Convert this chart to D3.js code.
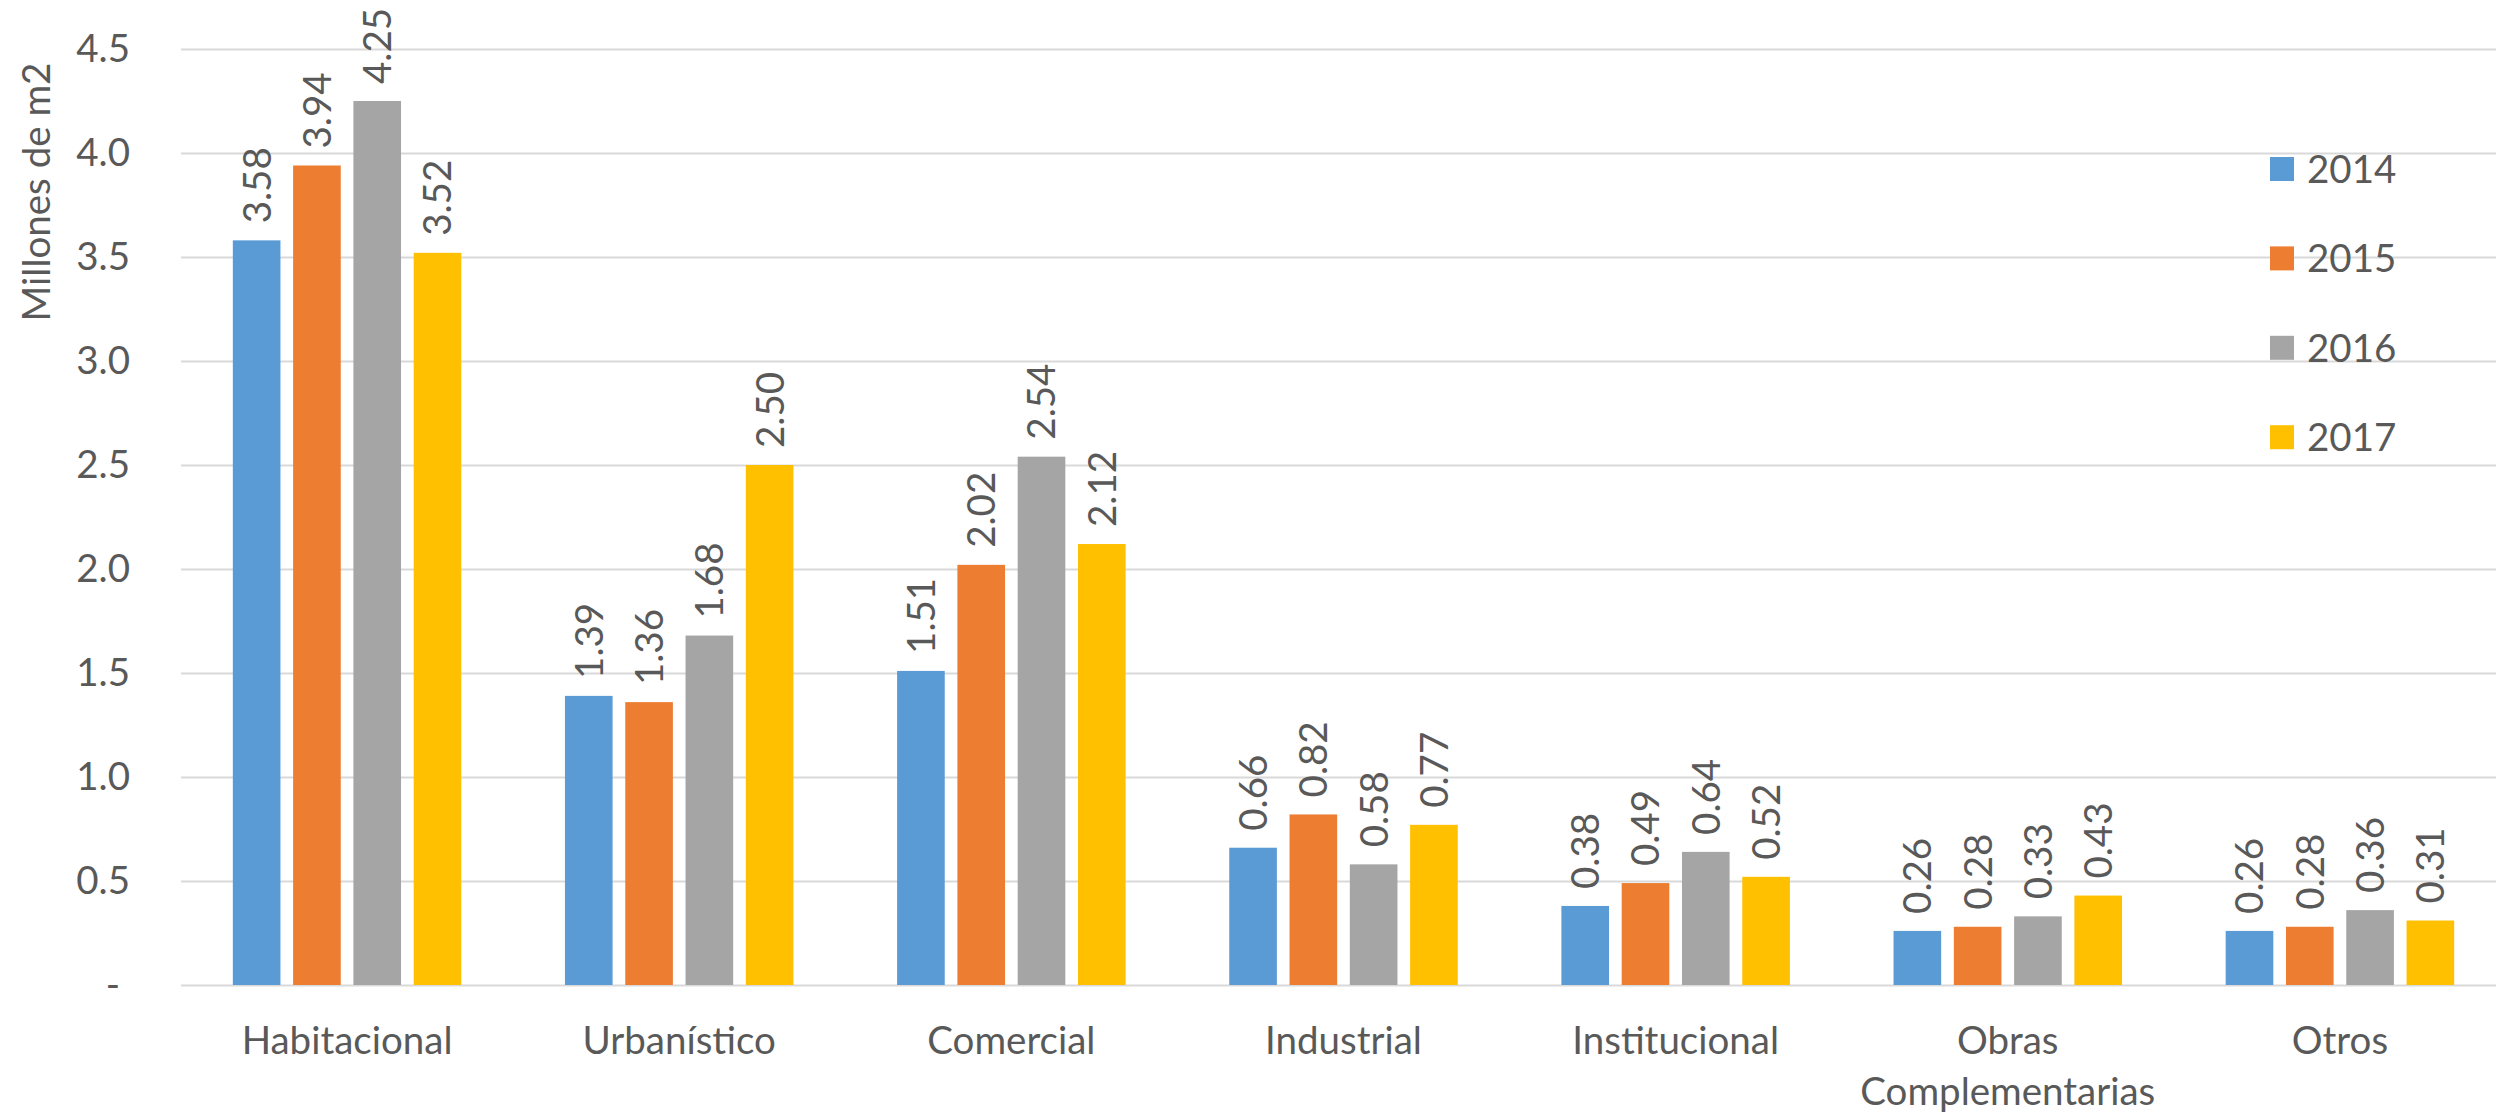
<!DOCTYPE html>
<html>
<head>
<meta charset="utf-8">
<script src="https://cdn.jsdelivr.net/npm/d3@7"></script>
<style>
  body { margin: 0; background: #fff; }
  svg text { font-family: Lato, 'Open Sans', sans-serif; fill: #595959; }
</style>
</head>
<body>
<div id="chart"></div>
<script>
const categories = ['Habitacional', 'Urbanístico', 'Comercial', 'Industrial', 'Institucional', 'Obras Complementarias', 'Otros'];
const years = ['2014', '2015', '2016', '2017'];
const v2014 = [3.58, 1.39, 1.51, 0.66, 0.38, 0.26, 0.26];
const v2015 = [3.94, 1.36, 2.02, 0.82, 0.49, 0.28, 0.28];
const v2016 = [4.25, 1.68, 2.54, 0.58, 0.64, 0.33, 0.36];
const v2017 = [3.52, 2.50, 2.12, 0.77, 0.52, 0.43, 0.31];
const yTicks = [0, 0.5, 1.0, 1.5, 2.0, 2.5, 3.0, 3.5, 4.0, 4.5];
const colors = ['#5B9BD5', '#ED7D31', '#A5A5A5', '#FFC000'];

const width = 2496;
const height = 1117;
const plotLeft = 181;
const plotRight = 2506;
const plotTop = 49;
const plotBottom = 985;
const fontSize = 38.5;

const series = [v2014, v2015, v2016, v2017];
const rows = categories.map((c, i) => ({
    cat: c,
    vals: years.map((yr, j) => ({ year: yr, value: series[j][i] }))
}));

const svg = d3.select('#chart')
    .append('svg')
    .attr('width', width)
    .attr('height', height);

const x0 = d3.scaleBand()
    .domain(categories)
    .range([plotLeft, plotRight])
    .padding(0);

const groupW = 228.5;
const x1 = d3.scaleBand()
    .domain(years)
    .range([0, groupW])
    .paddingInner(0.21)
    .paddingOuter(0);

const y = d3.scaleLinear()
    .domain([0, 4.5])
    .range([plotBottom, plotTop]);

const color = d3.scaleOrdinal().domain(years).range(colors);

// gridlines
svg.append('g')
    .attr('transform', `translate(${plotLeft},0)`)
    .call(d3.axisLeft(y).tickValues(yTicks).tickSize(-(plotRight - plotLeft)).tickFormat(''))
    .call(g => g.select('.domain').remove())
    .call(g => g.selectAll('line').attr('stroke', '#d9d9d9').attr('stroke-width', 2));

// y labels
svg.append('g')
    .attr('transform', 'translate(130,0)')
    .call(d3.axisLeft(y).tickValues(yTicks).tickSize(0).tickPadding(0)
        .tickFormat(d => d === 0 ? '-' : d.toFixed(1)))
    .call(g => g.select('.domain').remove())
    .call(g => g.selectAll('text')
        .style('font-size', fontSize + 'px')
        .attr('fill', '#595959')
        .attr('dx', d => d === 0 ? -10 : 0));

// y title
svg.append('text')
    .attr('transform', 'translate(50,192) rotate(-90)')
    .attr('text-anchor', 'middle')
    .style('font-size', fontSize + 'px')
    .text('Millones de m2');

const groups = svg.append('g')
    .selectAll('g')
    .data(rows)
    .join('g')
    .attr('transform', d => `translate(${x0(d.cat) + (x0.bandwidth() - groupW) / 2},0)`);

groups.selectAll('rect')
    .data(d => d.vals)
    .join('rect')
    .attr('x', d => x1(d.year))
    .attr('y', d => y(d.value))
    .attr('width', x1.bandwidth())
    .attr('height', d => y(0) - y(d.value))
    .attr('fill', d => color(d.year));

groups.selectAll('text.lbl')
    .data(d => d.vals)
    .join('text')
    .attr('class', 'lbl')
    .attr('transform', d => `translate(${x1(d.year) + x1.bandwidth() / 2},${y(d.value) - 17}) rotate(-90)`)
    .attr('dy', '0.36em')
    .style('font-size', fontSize + 'px')
    .text(d => d.value.toFixed(2));

// x labels
const xl = svg.append('g')
    .selectAll('text')
    .data(categories)
    .join('text')
    .attr('x', d => x0(d) + x0.bandwidth() / 2)
    .attr('y', 1054)
    .attr('text-anchor', 'middle')
    .style('font-size', fontSize + 'px');

xl.each(function (d) {
    const words = d === 'Obras Complementarias' ? ['Obras', 'Complementarias'] : [d];
    d3.select(this).selectAll('tspan')
        .data(words)
        .join('tspan')
        .attr('x', x0(d) + x0.bandwidth() / 2)
        .attr('dy', (w, i) => i === 0 ? 0 : 51)
        .text(w => w);
});

// legend
const legend = svg.append('g')
    .selectAll('g')
    .data(years)
    .join('g')
    .attr('transform', (d, i) => `translate(2270,${169 + i * 89.4})`);

legend.append('rect')
    .attr('x', 0)
    .attr('y', -12)
    .attr('width', 24)
    .attr('height', 24)
    .attr('fill', d => color(d));

legend.append('text')
    .attr('x', 37)
    .attr('dy', '0.36em')
    .style('font-size', fontSize + 'px')
    .text(d => d);
</script>
</body>
</html>
